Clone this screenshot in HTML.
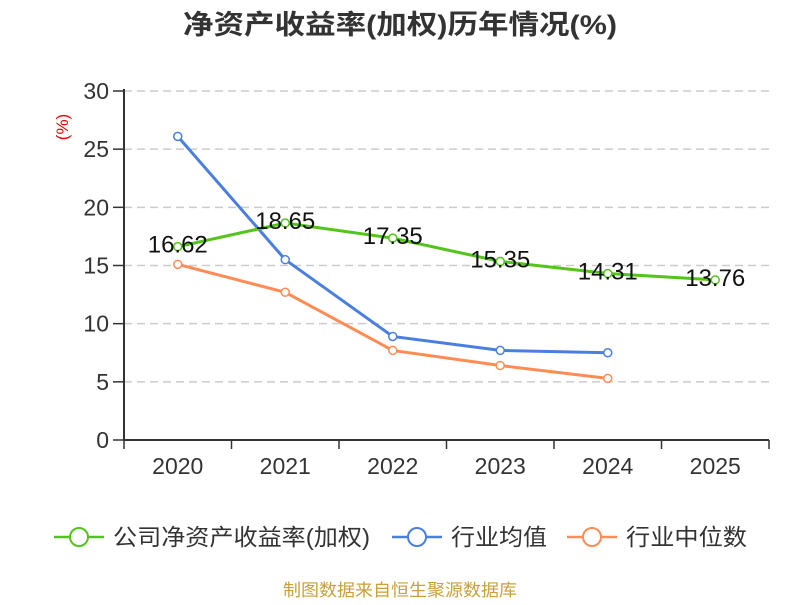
<!DOCTYPE html>
<html><head><meta charset="utf-8"><style>
body{margin:0;background:#fff;}
svg{font-family:"Liberation Sans","Noto Sans CJK SC",sans-serif;}
</style></head><body>
<svg id="c" width="800" height="600" xmlns="http://www.w3.org/2000/svg">
<text x="400" y="34" text-anchor="middle" font-size="27" font-weight="bold" fill="#333" textLength="434" lengthAdjust="spacingAndGlyphs">净资产收益率(加权)历年情况(%)</text>
<text transform="translate(68,127) rotate(-90)" text-anchor="middle" font-size="17" fill="#e00">(%)</text>
<g id="grid"></g><g id="axes"></g><g id="series"></g>
<g>
<g><line x1="54" y1="537" x2="104" y2="537" stroke="#52c41a" stroke-width="2.5"/><circle cx="79" cy="537" r="9" fill="#fff" stroke="#52c41a" stroke-width="2"/><text x="113" y="545" font-size="23" fill="#333" textLength="257" lengthAdjust="spacingAndGlyphs">公司净资产收益率(加权)</text></g>
<g><line x1="392" y1="537" x2="442" y2="537" stroke="#4a7fdf" stroke-width="2.5"/><circle cx="417" cy="537" r="9" fill="#fff" stroke="#4a7fdf" stroke-width="2"/><text x="451" y="545" font-size="23" fill="#333" textLength="96" lengthAdjust="spacingAndGlyphs">行业均值</text></g>
<g><line x1="567" y1="537" x2="617" y2="537" stroke="#ff8c55" stroke-width="2.5"/><circle cx="592" cy="537" r="9" fill="#fff" stroke="#ff8c55" stroke-width="2"/><text x="626" y="545" font-size="23" fill="#333" textLength="121" lengthAdjust="spacingAndGlyphs">行业中位数</text></g>
</g>
<text x="400" y="596" text-anchor="middle" font-size="17" fill="#c9a13a" textLength="234" lengthAdjust="spacingAndGlyphs">制图数据来自恒生聚源数据库</text>
</svg>
<script>
const categories=["2020","2021","2022","2023","2024","2025"];
const companyValues=[16.62,18.65,17.35,15.35,14.31,13.76];
const industryAvg=[26.1,15.5,8.9,7.7,7.5];
const industryMedian=[15.1,12.7,7.7,6.4,5.3];
const yTicks=[0,5,10,15,20,25,30];
const NS="http://www.w3.org/2000/svg";
const x0=124,x1=769,yBase=440,yTop=91;
const band=(x1-x0)/categories.length;
const xs=i=>x0+band*(i+0.5);
const ys=v=>yBase-(v/30)*(yBase-yTop);
function mk(p,tag,a){const e=document.createElementNS(NS,tag);for(const k in a)e.setAttribute(k,a[k]);p.appendChild(e);return e;}
const grid=document.getElementById('grid'),axes=document.getElementById('axes'),ser=document.getElementById('series');
yTicks.forEach(t=>{
 const y=ys(t);
 if(t>0){const g=mk(grid,'line',{x1:x0,x2:x1,y1:y,y2:y,stroke:'#ccc','stroke-dasharray':'8,5','stroke-width':1.5});
 
 }
 const tk=mk(axes,'line',{x1:x0-11,x2:x0,y1:y,y2:y,stroke:'#333','stroke-width':1.5});
 
 
 const tx=mk(axes,'text',{x:x0-15,y:y+8,'text-anchor':'end','font-size':23,fill:'#333'});tx.textContent=t;
 
 
});
const ya=mk(axes,'line',{x1:x0,x2:x0,y1:yTop-2,y2:yBase,stroke:'#333','stroke-width':2});


const xa=mk(axes,'line',{x1:x0,x2:x1,y1:yBase,y2:yBase,stroke:'#333','stroke-width':2});


for(let i=0;i<=categories.length;i++){const t=mk(axes,'line',{x1:x0+band*i,x2:x0+band*i,y1:yBase,y2:yBase+9,stroke:'#333','stroke-width':1.5});
 
 }
categories.forEach((c,i)=>{const t=mk(axes,'text',{x:xs(i),y:yBase+34,'text-anchor':'middle','font-size':23,fill:'#333'});t.textContent=c;
 
 });
function drawSeries(vals,color,name,labels){
 const pl=mk(ser,'polyline',{points:vals.map((v,i)=>xs(i)+','+ys(v)).join(' '),fill:'none',stroke:color,'stroke-width':3});
 
 
 vals.forEach((v,i)=>{const c=mk(ser,'circle',{cx:xs(i),cy:ys(v),r:4,fill:'#fff',stroke:color,'stroke-width':1.5});
  
  
  if(labels){const t=mk(ser,'text',{x:xs(i),y:ys(v)+6,'text-anchor':'middle','font-size':24,fill:'#111'});t.textContent=v.toFixed(2);
   
   }
 });
}
drawSeries(industryMedian,'#ff8c55','industry-median',false);
drawSeries(industryAvg,'#4a7fdf','industry-avg',false);
drawSeries(companyValues,'#52c41a','company',true);
</script>
</body></html>
